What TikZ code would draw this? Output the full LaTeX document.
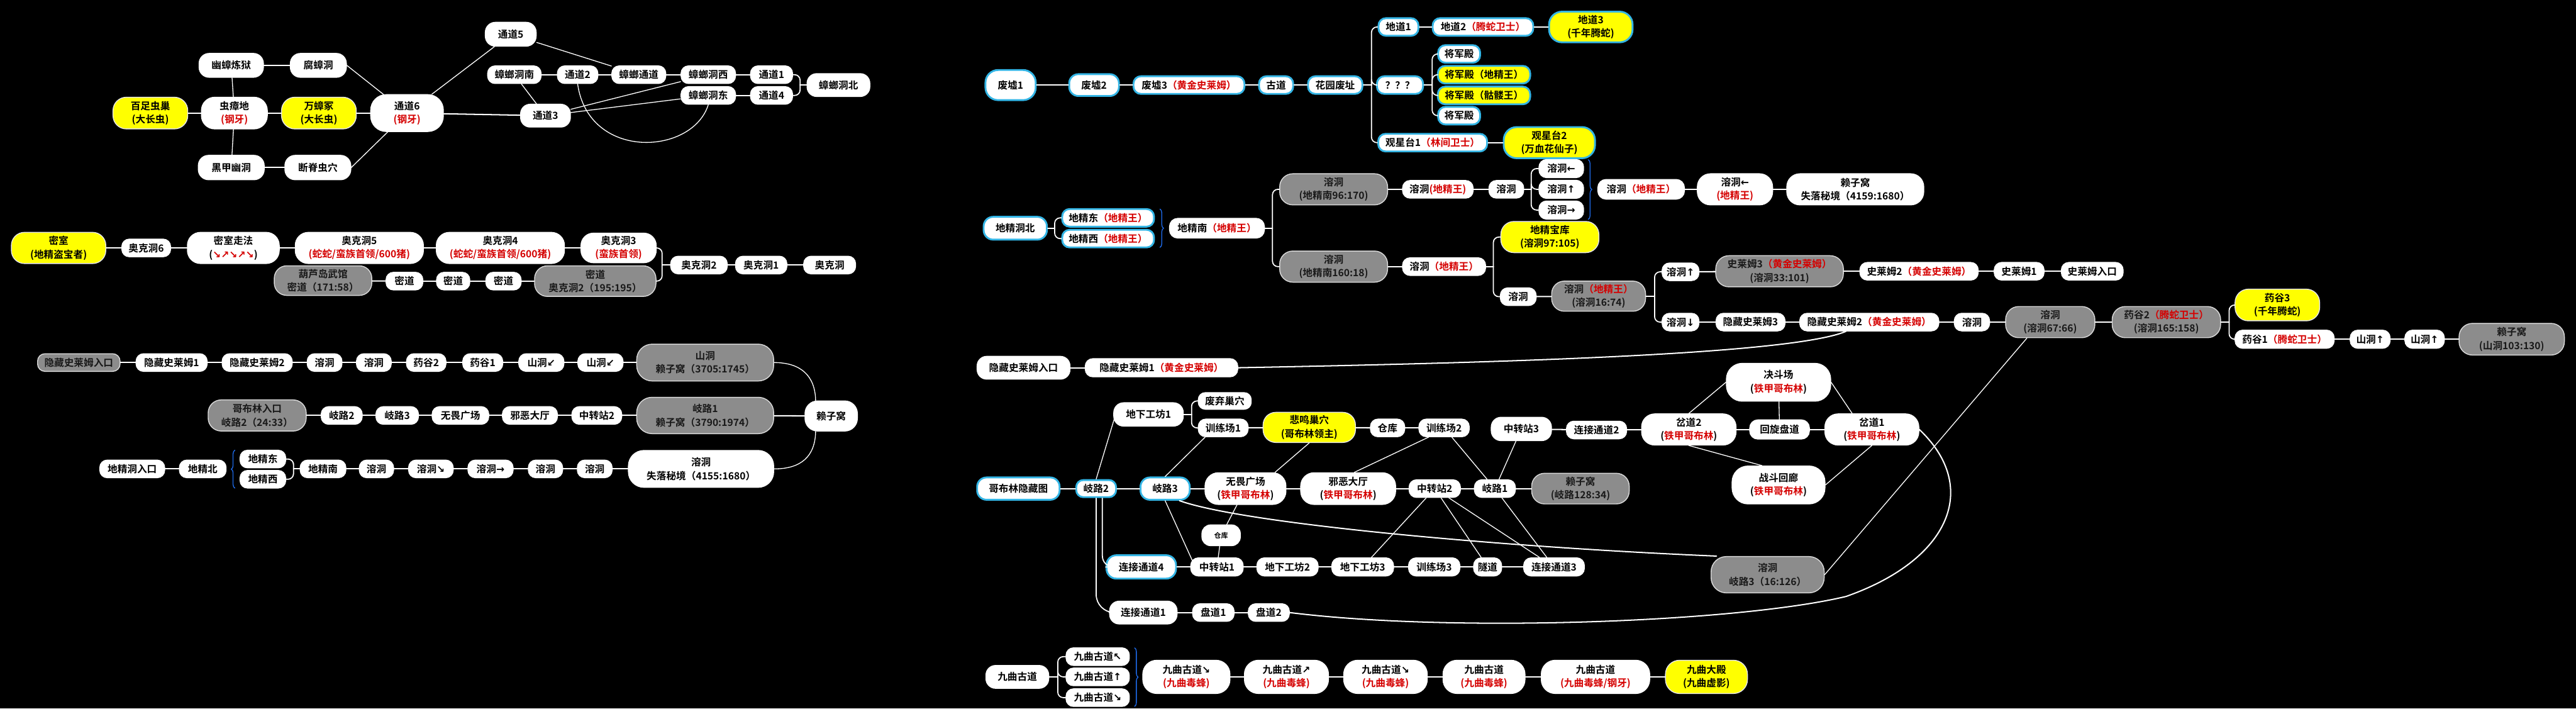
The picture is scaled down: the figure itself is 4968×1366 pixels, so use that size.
\documentclass[tikz,border=0pt]{standalone}
\usepackage{fontspec}
\setmainfont{Noto Sans CJK SC}[BoldFont={Noto Sans CJK SC Bold}]
\newfontfamily\arwfont{DejaVu Sans}
\usetikzlibrary{calc,decorations.pathreplacing}
\definecolor{Bred}{HTML}{D50000}
\definecolor{Bgray}{HTML}{8C8C8C}
\definecolor{Byel}{HTML}{FFFF00}
\definecolor{Bcyan}{HTML}{33B5E5}
\newcommand{\rtx}[1]{\textcolor{Bred}{#1}}
\newcommand{\aw}[1]{{\arwfont #1}}
\newcommand{\boxfont}{\bfseries\fontsize{5.4}{7.4}\selectfont}
\tikzset{
  nd/.style 2 args={minimum width=#1*0.1mm, minimum height=#2*0.1mm,
    rounded corners=#2*0.042mm, inner sep=0pt, align=center, font=\boxfont},
  wt/.style={fill=white, draw=white, line width=0.5pt, text=black},
  gy/.style={fill=Bgray, draw=white!85!black, line width=0.5pt, text=black!90},
  yw/.style={fill=Byel, draw=white!90!black, line width=0.5pt, text=black},
  bw/.style={fill=white, draw=Bcyan, line width=1pt, text=black},
  by/.style={fill=Byel, draw=Bcyan, line width=1pt, text=black},
  ln/.style={draw=white, line width=0.7pt},
  tn/.style={draw=white, line width=0.45pt},
  elb/.style={draw=white, line width=0.6pt, rounded corners=3pt},
  brc/.style={draw=Bcyan!60!blue, line width=0.45pt, decorate,
    decoration={brace, amplitude=2pt}},
}

\begin{document}
\begin{tikzpicture}[x=0.01cm,y=-0.01cm,line join=round,line cap=round]
\fill[black] (0,0) rectangle (4968,1366);
\useasboundingbox (0,0) rectangle (4968,1366);

% ---- insect caves, top left ----
\node[nd={124}{46},wt] (yzly) at (446,126) {幽蟑炼狱};
\node[nd={108}{46},wt] (fzd) at (614,126) {腐蟑洞};
\node[nd={144}{61},yw] (bzcc) at (290,218) {百足虫巢\\(大长虫)};
\node[nd={127}{61},wt] (czd) at (452,218) {虫瘴地\\\rtx{(钢牙)}};
\node[nd={144}{61},yw] (wzz) at (615,218) {万蟑冢\\(大长虫)};
\node[nd={140}{71},wt] (td6) at (785,218) {通道6\\\rtx{(钢牙)}};
\node[nd={127}{47},wt] (hjyd) at (446,323) {黑甲幽洞};
\node[nd={127}{47},wt] (djcx) at (613,323) {断脊虫穴};
\node[nd={98}{46},wt] (td5) at (985,66) {通道5};
\node[nd={96}{44},wt] (td3) at (1052,223) {通道3};
\node[nd={121}{44},wt] (zlb) at (1617,164) {蟑螂洞北};
\foreach \n/\x/\y/\w/\t in {zln/992/144/103/蟑螂洞南, td2/1114/144/78/通道2,
  zltd/1232/144/104/蟑螂通道, zlx/1366/144/105/蟑螂洞西, td1/1488/144/81/通道1,
  zld/1366/184/105/蟑螂洞东, td4/1488/184/81/通道4}
  \node[nd={\w}{34},wt] (\n) at (\x,\y) {\t};

\foreach \a/\b in {yzly/fzd,bzcc/czd,czd/wzz,wzz/td6,td6/td3,hjyd/djcx,
  zln/td2,td2/zltd,zltd/zlx,zlx/td1,zld/td4}
  \draw[ln] (\a) -- (\b);
\foreach \a/\b in {yzly/czd,czd/hjyd,fzd.east/td6,djcx.east/td6,td6/td5,
  td5/zltd,zln/td3,td3/zlx,td3/zld}
  \draw[tn] (\a) -- (\b);
\draw[tn] (td2.south) .. controls (1135,310) and (1335,300) .. (zld.south);
\coordinate (zlbj) at (1543,164);
\draw[elb] (td1.east) -| (zlbj) |- (td4.east);
\draw[ln] (zlbj) -- (zlb.west);

% ---- ork caves, left middle ----
\node[nd={182}{60},yw] (ms) at (113,478) {密室\\(地精盗宝者)};
\node[nd={94}{34},wt] (akd6) at (282,478) {奥克洞6};
\node[nd={177}{60},wt] (mszf) at (450,478) {密室走法\\(\rtx{\aw{↘↗↘↗↘}})};
\node[nd={247}{60},wt] (akd5) at (693,478) {奥克洞5\\\rtx{(蛇蛇/蛮族首领/600猪)}};
\node[nd={247}{60},wt] (akd4) at (965,478) {奥克洞4\\\rtx{(蛇蛇/蛮族首领/600猪)}};
\node[nd={145}{57},wt] (akd3) at (1193,478) {奥克洞3\\\rtx{(蛮族首领)}};
\node[nd={188}{57},gy] (hlwg) at (623,541) {葫芦岛武馆\\密道（171:58）};
\node[nd={234}{59},gy] (mdak) at (1148,542) {密道\\奥克洞2（195:195）};
\foreach \n/\x/\y/\w/\t in {akd2/1348/511/109/奥克洞2, akd1/1468/511/99/奥克洞1,
  akd/1600/511/100/奥克洞, md1/780/542/71/密道, md2/874/542/64/密道, md3/971/542/68/密道}
  \node[nd={\w}{34},wt] (\n) at (\x,\y) {\t};

\foreach \a/\b in {ms/akd6,akd6/mszf,mszf/akd5,akd5/akd4,akd4/akd3,hlwg/md1,md1/md2,
  md2/md3,md3/mdak,akd2/akd1,akd1/akd}
  \draw[ln] (\a) -- (\b);
\coordinate (akj) at (1277,511);
\draw[elb] (akd3.east) -| (akj) |- (mdak.east);
\draw[ln] (akj) -- (akd2.west);

% ---- three ways to the nest, left bottom ----
\node[nd={159}{34},gy] (hsrk) at (152,699) {隐藏史莱姆入口};
\foreach \n/\x/\w/\t in {hs1/331/137/隐藏史莱姆1, hs2/496/135/隐藏史莱姆2, rda/626/67/溶洞,
  rdb/721/67/溶洞, yga/822/76/药谷2, ygb/931/77/药谷1, sda/1044/87/山洞\aw{↙},
  sdb/1158/87/山洞\aw{↙}}
  \node[nd={\w}{34},wt] (\n) at (\x,699) {\t};
\node[nd={264}{71},gy] (sdlz) at (1360,699) {山洞\\赖子窝（3705:1745）};
\node[nd={189}{60},gy] (gbrk) at (496,801) {哥布林入口\\岐路2（24:33）};
\foreach \n/\x/\w/\t in {qla/659/79/岐路2, qlb/766/82/岐路3, wwa/888/109/无畏广场,
  xea/1022/106/邪恶大厅, zza/1151/96/中转站2}
  \node[nd={\w}{34},wt] (\n) at (\x,801) {\t};
\node[nd={264}{70},gy] (qllz) at (1360,801) {岐路1\\赖子窝（3790:1974）};
\node[nd={101}{58},wt] (lzw) at (1603,802) {赖子窝};
\foreach \n/\x/\y/\w/\t in {djrk/255/904/125/地精洞入口, djb/391/904/90/地精北,
  djd/507/885/88/地精东, djx/507/924/88/地精西, djn/623/904/88/地精南,
  rdc/726/904/66/溶洞, rdd/831/904/86/溶洞\aw{↘}, rde/946/904/87/溶洞\aw{→},
  rdf/1052/904/66/溶洞, rdg/1147/904/67/溶洞}
  \node[nd={\w}{34},wt] (\n) at (\x,\y) {\t};
\node[nd={280}{71},wt] (rdsl) at (1352,904) {溶洞\\失落秘境（4155:1680）};

\foreach \a/\b in {hsrk/hs1,hs1/hs2,hs2/rda,rda/rdb,rdb/yga,yga/ygb,ygb/sda,sda/sdb,sdb/sdlz,
  gbrk/qla,qla/qlb,qlb/wwa,wwa/xea,xea/zza,zza/qllz,qllz/lzw,
  djrk/djb,djn/rdc,rdc/rdd,rdd/rde,rde/rdf,rdf/rdg,rdg/rdsl}
  \draw[ln] (\a) -- (\b);
\draw[tn] (sdlz.east) .. controls (1545,699) and (1572,725) .. ($(lzw.north)+(-30,0)$);
\draw[tn] (rdsl.east) .. controls (1545,904) and (1572,880) .. ($(lzw.south)+(-30,0)$);
\draw[brc] (453,941) -- (453,868);
\coordinate (djj) at (566,904);
\draw[elb] (djd.east) -| (djj) |- (djx.east);
\draw[ln] (djj) -- (djn.west);

% ---- ruins, top right ----
\node[nd={97}{58},bw] (fx1) at (1949,164) {废墟1};
\node[nd={96}{42},bw] (fx2) at (2110,164) {废墟2};
\node[nd={214}{34},bw] (fx3) at (2293,164) {废墟3\rtx{（黄金史莱姆）}};
\node[nd={66}{34},bw] (gd) at (2461,164) {古道};
\node[nd={105}{34},bw] (hyfz) at (2575,164) {花园废址};
\node[nd={89}{34},bw] (wh) at (2700,164) {？？？};
\node[nd={77}{34},bw] (dd1) at (2697,52) {地道1};
\node[nd={194}{34},bw] (dd2) at (2860,52) {地道2\rtx{（腾蛇卫士）}};
\node[nd={161}{59},by] (dd3) at (3068,52) {地道3\\(千年腾蛇)};
\node[nd={81}{34},bw] (jj1) at (2814,104) {将军殿};
\node[nd={178}{34},by] (jj2) at (2862,144) {将军殿（地精王）};
\node[nd={178}{34},by] (jj3) at (2862,184) {将军殿（骷髅王）};
\node[nd={81}{34},bw] (jj4) at (2814,223) {将军殿};
\node[nd={210}{34},bw] (gx1) at (2763,275) {观星台1\rtx{（林间卫士）}};
\node[nd={176}{60},by] (gx2) at (2988,275) {观星台2\\(万血花仙子)};

\foreach \a/\b in {fx1/fx2,fx2/fx3,fx3/gd,gd/hyfz,dd1/dd2,dd2/dd3,gx1/gx2}
  \draw[ln] (\a) -- (\b);
\coordinate (hyj) at (2645,164);
\coordinate (whj) at (2762,164);
\draw[ln] (hyfz) -- (hyj);
\foreach \c in {dd1,wh,gx1} \draw[elb] (hyj) |- (\c.west);
\draw[ln] (wh) -- (whj);
\foreach \c in {jj1,jj2,jj3,jj4} \draw[elb] (whj) |- (\c.west);

% ---- goblin north cave, right middle ----
\node[nd={122}{44},bw] (djbn) at (1958,440) {地精洞北};
\node[nd={177}{34},bw] (djdw) at (2137,420) {地精东\rtx{（地精王）}};
\node[nd={177}{34},bw] (djxw) at (2137,460) {地精西\rtx{（地精王）}};
\node[nd={183}{38},wt] (djnw) at (2347,440) {地精南\rtx{（地精王）}};
\node[nd={208}{60},gy] (rdA) at (2572,365) {溶洞\\(地精南96:170)};
\node[nd={208}{60},gy] (rdB) at (2572,514) {溶洞\\(地精南160:18)};
\node[nd={136}{34},wt] (rdw1) at (2773,365) {溶洞\rtx{(地精王)}};
\node[nd={67}{34},wt] (rd1) at (2905,365) {溶洞};
\foreach \n/\y/\t in {rdl/325/←, rdu/365/↑, rdr/405/→}
  \node[nd={86}{35},wt] (\n) at (3011,\y) {溶洞\aw{\t}};
\node[nd={167}{38},wt] (rdw2) at (3165,365) {溶洞\rtx{（地精王）}};
\node[nd={145}{60},wt] (rdlw) at (3346,365) {溶洞\aw{←}\\\rtx{(地精王)}};
\node[nd={264}{60},wt] (lzsl) at (3578,365) {赖子窝\\失落秘境（4159:1680）};
\node[nd={189}{60},yw] (djbk) at (2989,457) {地精宝库\\(溶洞97:105)};
\node[nd={160}{34},wt] (rdw3) at (2785,514) {溶洞\rtx{（地精王）}};
\node[nd={69}{34},wt] (rd2) at (2928,572) {溶洞};
\node[nd={181}{58},gy] (rdw4) at (3083,571) {溶洞\rtx{（地精王）}\\(溶洞16:74)};
\node[nd={71}{34},wt] (rdu2) at (3241,524) {溶洞\aw{↑}};
\node[nd={71}{34},wt] (rddn) at (3241,621) {溶洞\aw{↓}};
\node[nd={246}{60},gy] (slm3) at (3432,523) {史莱姆3\rtx{（黄金史莱姆）}\\(溶洞33:101)};
\node[nd={228}{34},wt] (slm2) at (3701,523) {史莱姆2\rtx{（黄金史莱姆）}};
\node[nd={96}{34},wt] (slm1) at (3894,523) {史莱姆1};
\node[nd={119}{34},wt] (slmrk) at (4035,523) {史莱姆入口};
\node[nd={133}{34},wt] (hsl3) at (3376,621) {隐藏史莱姆3};
\node[nd={268}{34},wt] (hsl2) at (3605,621) {隐藏史莱姆2\rtx{（黄金史莱姆）}};
\node[nd={68}{34},wt] (rd3) at (3803,621) {溶洞};
\node[nd={172}{60},gy] (rd66) at (3954,621) {溶洞\\(溶洞67:66)};
\node[nd={209}{60},gy] (yg2w) at (4178,621) {药谷2\rtx{（腾蛇卫士）}\\(溶洞165:158)};
\node[nd={163}{61},yw] (yg3) at (4392,588) {药谷3\\(千年腾蛇)};
\node[nd={191}{35},wt] (yg1w) at (4406,654) {药谷1\rtx{（腾蛇卫士）}};
\node[nd={77}{35},wt] (sdu1) at (4571,654) {山洞\aw{↑}};
\node[nd={76}{35},wt] (sdu2) at (4676,654) {山洞\aw{↑}};
\node[nd={203}{61},gy] (lzsd) at (4844,654) {赖子窝\\(山洞103:130)};

\foreach \a/\b in {rdA/rdw1,rdw1/rd1,rdw2/rdlw,rdlw/lzsl,rdB/rdw3,rd2/rdw4,
  rdu2/slm3,slm3/slm2,slm2/slm1,slm1/slmrk,rddn/hsl3,hsl3/hsl2,hsl2/rd3,rd3/rd66,
  rd66/yg2w,yg1w/sdu1,sdu1/sdu2,sdu2/lzsd}
  \draw[ln] (\a) -- (\b);
\coordinate (djbj) at (2034,440);
\draw[ln] (djbn) -- (djbj);
\foreach \c in {djdw,djxw} \draw[elb] (djbj) |- (\c.west);
\draw[brc] (2237,403) -- (2237,477);
\coordinate (djnj) at (2454,440);
\draw[ln] (djnw) -- (djnj);
\foreach \c in {rdA,rdB} \draw[elb] (djnj) |- (\c.west);
\coordinate (rd1j) at (2953,365);
\draw[ln] (rd1) -- (rd1j);
\foreach \c in {rdl,rdu,rdr} \draw[elb] (rd1j) |- (\c.west);
\draw[brc] (3063,308) -- (3063,423);
\coordinate (rw3j) at (2880,514);
\draw[ln] (rdw3) -- (rw3j);
\foreach \c in {djbk,rd2} \draw[elb] (rw3j) |- (\c.west);
\coordinate (rw4j) at (3191,571);
\draw[ln] (rdw4) -- (rw4j);
\foreach \c in {rdu2,rddn} \draw[elb] (rw4j) |- (\c.west);
\coordinate (yg2j) at (4299,621);
\draw[ln] (yg2w) -- (yg2j);
\foreach \c in {yg3,yg1w} \draw[elb] (yg2j) |- (\c.west);

% ---- goblin hidden map, right lower ----
\node[nd={179}{44},wt] (hsrk2) at (1974,709) {隐藏史莱姆入口};
\node[nd={294}{35},wt] (hs1g) at (2240,709) {隐藏史莱姆1\rtx{（黄金史莱姆）}};
\node[nd={134}{45},wt] (dxgf1) at (2215,799) {地下工坊1};
\node[nd={102}{32},wt] (fqcx) at (2362,773) {废弃巢穴};
\node[nd={96}{34},wt] (xlc1) at (2359,825) {训练场1};
\node[nd={178}{58},yw] (bmcx) at (2525,824) {悲鸣巢穴\\(哥布林领主)};
\node[nd={66}{34},wt] (ck1) at (2676,825) {仓库};
\node[nd={97}{34},wt] (xlc2) at (2785,825) {训练场2};
\node[nd={116}{45},wt] (zzz3) at (2934,827) {中转站3};
\node[nd={116}{34},wt] (ljtd2) at (3079,829) {连接通道2};
\node[nd={182}{60},wt] (cd2) at (3257,828) {岔道2\\(\rtx{铁甲哥布林})};
\node[nd={115}{37},wt] (hxpd) at (3432,828) {回旋盘道};
\node[nd={181}{60},wt] (cd1) at (3610,828) {岔道1\\(\rtx{铁甲哥布林})};
\node[nd={201}{73},wt] (jdc) at (3430,737) {决斗场\\(\rtx{铁甲哥布林})};
\node[nd={179}{73},wt] (zdhl) at (3430,935) {战斗回廊\\(\rtx{铁甲哥布林})};
\node[nd={218}{70},gy] (rdq3) at (3409,1108) {溶洞\\岐路3（16:126）};
\node[nd={159}{43},bw] (gblt) at (1964,942) {哥布林隐藏图};
\node[nd={77}{33},bw] (ql2) at (2114,942) {岐路2};
\node[nd={95}{43},bw] (ql3) at (2247,942) {岐路3};
\node[nd={156}{61},wt] (wwgc) at (2402,942) {无畏广场\\(\rtx{铁甲哥布林})};
\node[nd={183}{61},wt] (xedt) at (2600,942) {邪恶大厅\\(\rtx{铁甲哥布林})};
\node[nd={99}{34},wt] (zzz2) at (2767,942) {中转站2};
\node[nd={79}{34},wt] (ql1) at (2883,942) {岐路1};
\node[nd={188}{59},gy] (lzql) at (3048,942) {赖子窝\\(岐路128:34)};
\node[nd={74}{40},wt,font=\bfseries\fontsize{3.8}{4.5}\selectfont] (ck2) at (2355,1032) {仓库};
\node[nd={134}{45},bw] (ljtd4) at (2201,1093) {连接通道4};
\foreach \n/\x/\w/\t in {zzz1/2347/101/中转站1, dxgf2/2483/118/地下工坊2,
  dxgf3/2628/119/地下工坊3, xlc3/2766/99/训练场3, sd/2869/54/隧道, ljtd3/2997/117/连接通道3}
  \node[nd={\w}{35},wt] (\n) at (\x,1093) {\t};
\node[nd={130}{44},wt] (ljtd1) at (2205,1181) {连接通道1};
\node[nd={80}{34},wt] (pd1) at (2340,1181) {盘道1};
\node[nd={79}{34},wt] (pd2) at (2447,1181) {盘道2};

\foreach \a/\b in {hsrk2/hs1g,xlc1/bmcx,bmcx/ck1,ck1/xlc2,zzz3/ljtd2,ljtd2/cd2,cd2/hxpd,
  hxpd/cd1,gblt/ql2,ql2/ql3,ql3/wwgc,wwgc/xedt,xedt/zzz2,zzz2/ql1,ql1/lzql,
  ljtd4/zzz1,zzz1/dxgf2,dxgf2/dxgf3,dxgf3/xlc3,xlc3/sd,sd/ljtd3,ljtd1/pd1,pd1/pd2}
  \draw[ln] (\a) -- (\b);
\foreach \a/\b in {xlc2/ql1,zzz3/ql1,wwgc/ck2,ck2/zzz1,zzz2/dxgf3,zzz2/sd,zzz2/ljtd3,
  ql1/ljtd3,jdc/hxpd}
  \draw[tn] (\a) -- (\b);
\draw[tn] (ql2.north) -- ($(dxgf1.west)+(2,8)$);
\draw[tn] (ql3.north) -- ($(xlc1.south west)+(14,0)$);
\draw[tn] (bmcx.south) -- ($(wwgc.north)+(57,0)$);
\draw[tn] ($(xlc2.south)+(-30,0)$) -- ($(xedt.north)+(12,0)$);
\draw[tn] (ql3.south) -- ($(zzz1.west)+(4,-12)$);
\draw[tn] (cd2.north) -- (jdc.west);
\draw[tn] (jdc.east) -- ($(cd1.north)+(-38,0)$);
\draw[tn] (cd2.south) -- ($(zdhl.north)+(-32,0)$);
\draw[tn] (cd1.south) -- (zdhl.east);
\draw[tn] ($(rd66.south)+(-45,0)$) -- (rdq3.east);
\coordinate (dxj) at (2298,799);
\draw[ln] (dxgf1) -- (dxj);
\foreach \c in {fqcx,xlc1} \draw[elb] (dxj) |- (\c.west);
\draw[ln] (hs1g.east) .. controls (2850,700) and (3450,685) .. ($(hsl2.south)+(-45,0)$);
\draw[ln] (ql3.-40) .. controls (2400,1010) and (2900,1055) .. (rdq3.160);
\draw[ln] (pd2.east) .. controls (2800,1220) and (3350,1200) .. (3560,1150)
  .. controls (3760,1080) and (3820,940) .. (cd1.east);
\draw[elb,rounded corners=10pt] (ql2.south) |- (ljtd1.west);
\draw[elb,rounded corners=6pt] ($(ql2.south)+(12,0)$) |- (ljtd4.west);

% ---- nine bend road, bottom ----
\node[nd={121}{44},wt] (jq0) at (1962,1305) {九曲古道};
\foreach \n/\y/\t in {jqa/1266/↖, jqb/1305/↑, jqc/1345/↘}
  \node[nd={122}{34},wt] (\n) at (2117,\y) {九曲古道\aw{\t}};
\node[nd={168}{64},wt] (jq1) at (2288,1305) {九曲古道\aw{↘}\\\rtx{(九曲毒蜂)}};
\node[nd={162}{64},wt] (jq2) at (2481,1305) {九曲古道\aw{↗}\\\rtx{(九曲毒蜂)}};
\node[nd={161}{64},wt] (jq3) at (2672,1305) {九曲古道\aw{↘}\\\rtx{(九曲毒蜂)}};
\node[nd={158}{64},wt] (jq4) at (2862,1305) {九曲古道\\\rtx{(九曲毒蜂)}};
\node[nd={209}{64},wt] (jq5) at (3077,1305) {九曲古道\\\rtx{(九曲毒蜂/钢牙)}};
\node[nd={158}{64},yw] (jqdd) at (3291,1305) {九曲大殿\\(九曲虚影)};

\foreach \a/\b in {jq1/jq2,jq2/jq3,jq3/jq4,jq4/jq5,jq5/jqdd} \draw[ln] (\a) -- (\b);
\coordinate (jqj) at (2040,1305);
\draw[ln] (jq0) -- (jqj);
\foreach \c in {jqa,jqb,jqc} \draw[elb] (jqj) |- (\c.west);
\draw[brc] (2188,1249) -- (2188,1362);
\end{tikzpicture}
\end{document}
